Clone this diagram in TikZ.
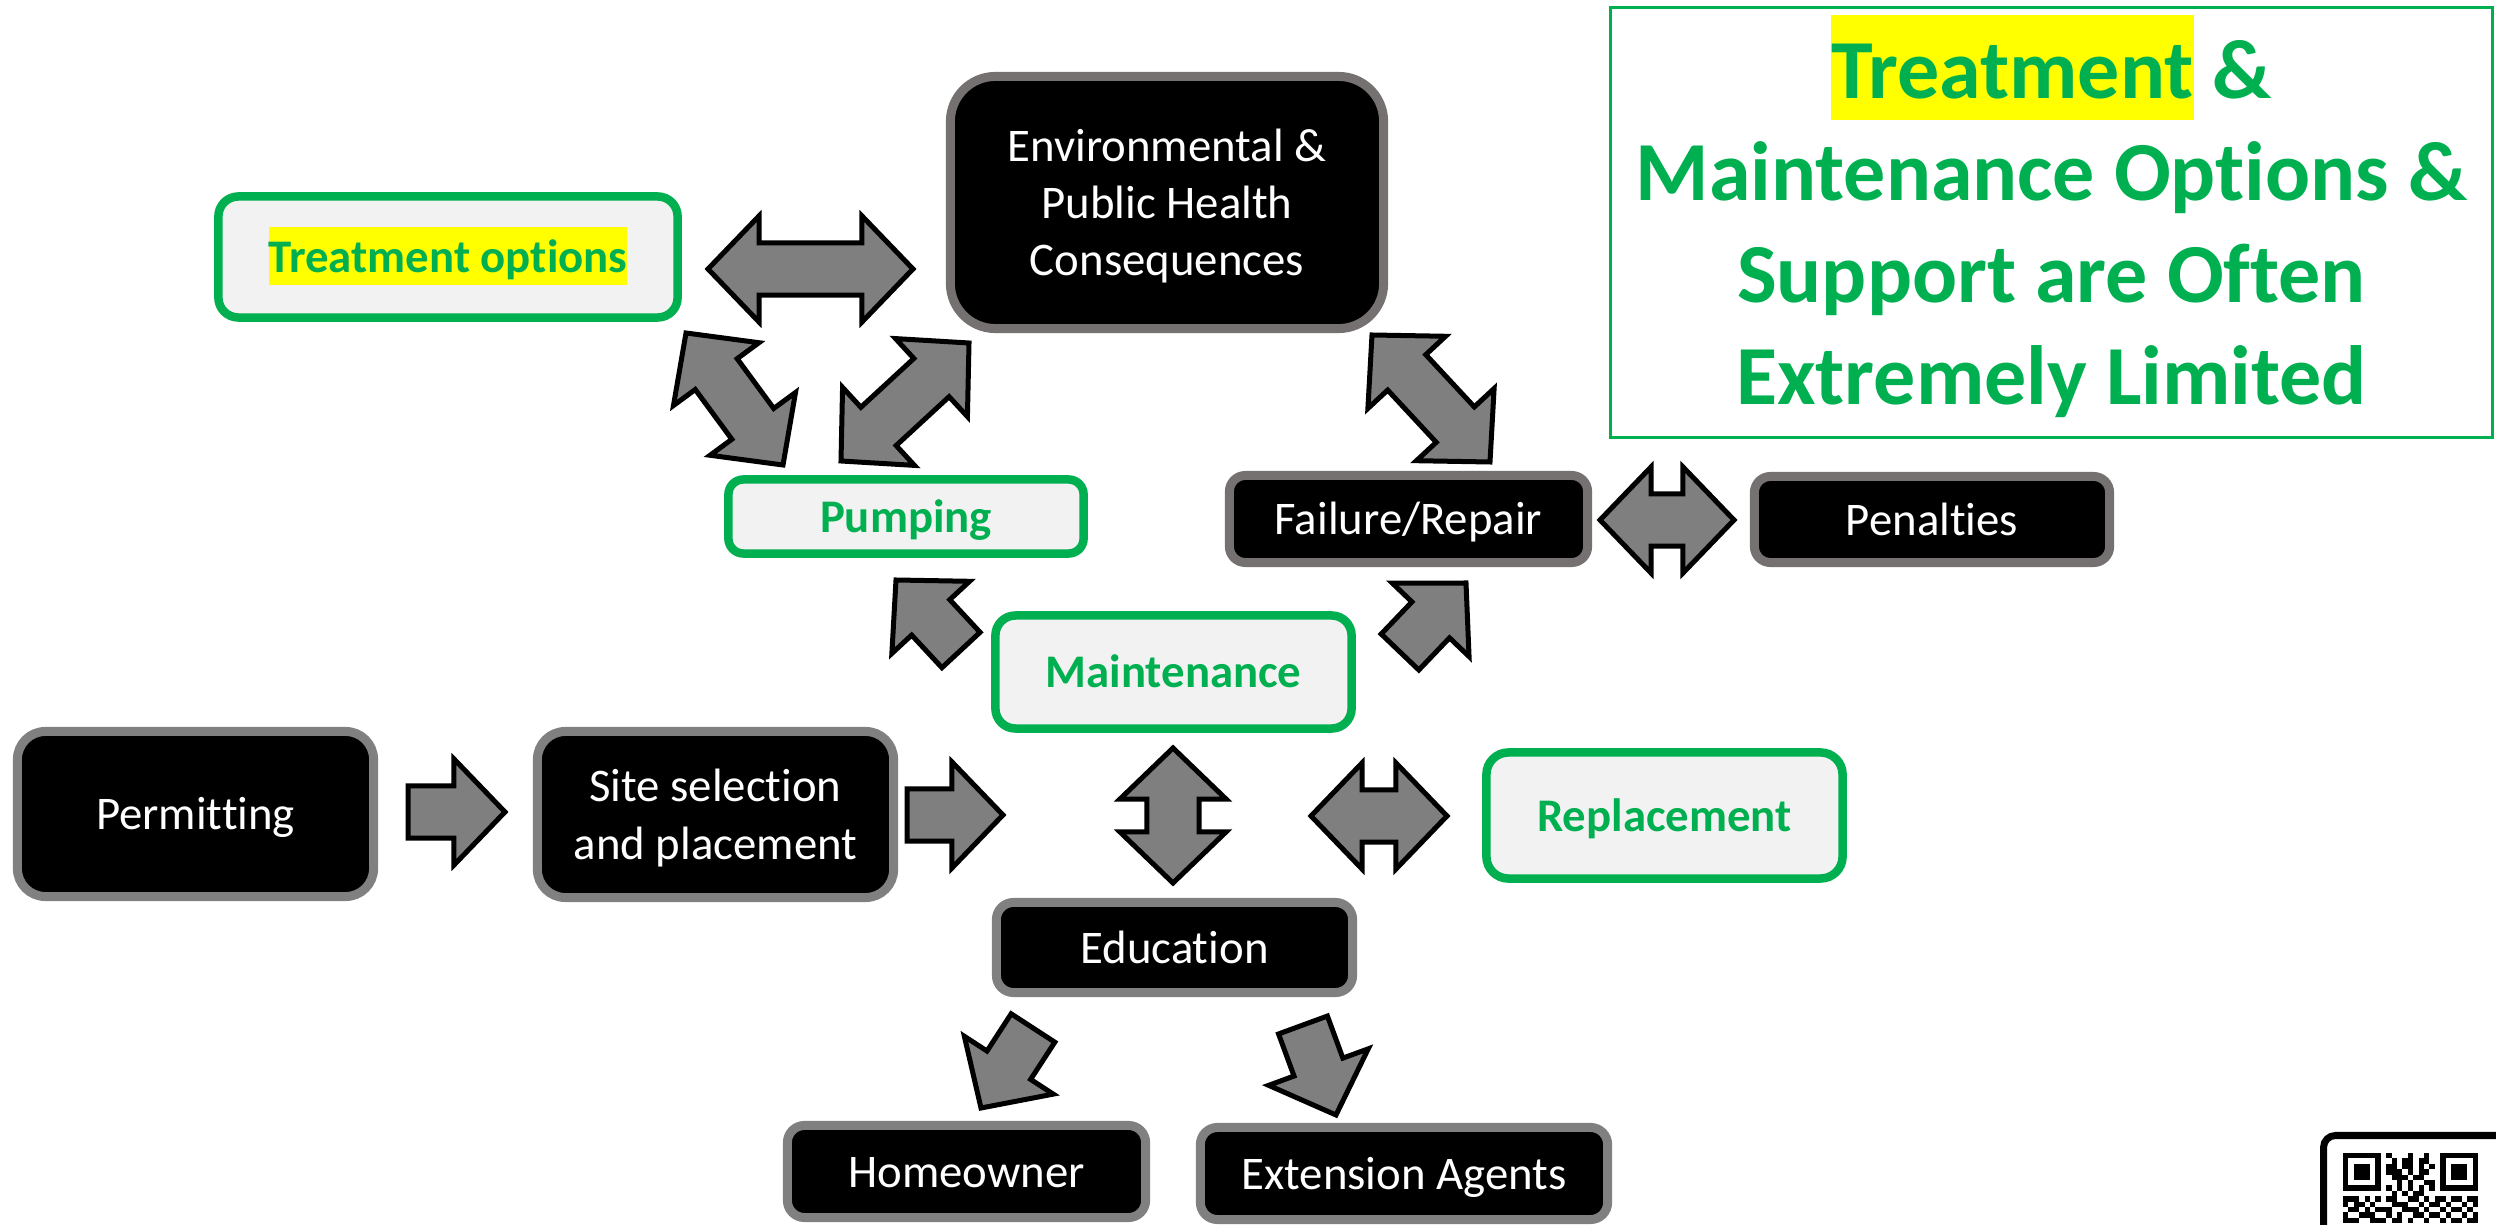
\documentclass[tikz,border=0pt]{standalone}
\usepackage{fontspec}
\setmainfont{Carlito}[Ligatures=NoCommon]
\usetikzlibrary{calc}

\definecolor{boxgreen}{HTML}{00B050}
\definecolor{boxfill}{HTML}{F2F2F2}
\definecolor{hlyellow}{HTML}{FFFF00}
\definecolor{rimgray}{HTML}{767171}
\definecolor{edgegray}{HTML}{808080}
\definecolor{arrowgray}{HTML}{7F7F7F}

\newcommand{\boxfont}{\fontsize{13.3pt}{16.3pt}\selectfont}
\newcommand{\titlefont}{\fontsize{23.9pt}{29pt}\selectfont\bfseries}
\newcommand{\hilite}[1]{{\setlength{\fboxsep}{0pt}\colorbox{hlyellow}{\rule[-0.26em]{0pt}{1.25em}#1}}}

% block arrow sizes (half widths)
\newcommand{\headlen}{0.51cm}
\newcommand{\headwid}{0.53cm}
\newcommand{\shaftwid}{0.26cm}

% double headed block arrow between two points
\newcommand{\dblarrow}[2]{%
  \draw[blockarrow] (#1)
    -- ($(#1)!\headlen!(#2)!\headwid!90:(#2)$)
    -- ($(#1)!\headlen!(#2)!\shaftwid!90:(#2)$)
    -- ($(#2)!\headlen!(#1)!\shaftwid!-90:(#1)$)
    -- ($(#2)!\headlen!(#1)!\headwid!-90:(#1)$)
    -- (#2)
    -- ($(#2)!\headlen!(#1)!\headwid!90:(#1)$)
    -- ($(#2)!\headlen!(#1)!\shaftwid!90:(#1)$)
    -- ($(#1)!\headlen!(#2)!\shaftwid!-90:(#2)$)
    -- ($(#1)!\headlen!(#2)!\headwid!-90:(#2)$)
    -- cycle;}

% single headed block arrow from tail to tip
\newcommand{\sglarrow}[2]{%
  \draw[blockarrow] ($(#1)!\shaftwid!90:(#2)$)
    -- ($(#2)!\headlen!(#1)!\shaftwid!-90:(#1)$)
    -- ($(#2)!\headlen!(#1)!\headwid!-90:(#1)$)
    -- (#2)
    -- ($(#2)!\headlen!(#1)!\headwid!90:(#1)$)
    -- ($(#2)!\headlen!(#1)!\shaftwid!90:(#1)$)
    -- ($(#1)!\shaftwid!-90:(#2)$)
    -- cycle;}

\tikzset{
  darkbox/.style={draw=edgegray, fill=black, text=white, line width=0.09cm,
    rounded corners=0.17cm, align=center, inner sep=0pt, font=\boxfont,
    text height=12.66pt, text depth=3.58pt},
  greenbox/.style={draw=boxgreen, fill=boxfill, text=boxgreen, line width=0.085cm,
    rounded corners=0.2cm, align=center, inner sep=0pt, font=\boxfont\bfseries,
    text height=12.66pt, text depth=3.58pt},
  blockarrow/.style={draw=black, fill=arrowgray, line width=0.05cm, line join=miter},
}

\begin{document}
\begin{tikzpicture}[x=0.01cm, y=-0.01cm]
    \useasboundingbox (0,0) rectangle (2496,1225);
    \clip (0,0) rectangle (2496,1225);

    % Define the boxes
    \node[greenbox, minimum width=4.59cm, minimum height=1.21cm] (Treat) at (448,257) {\hilite{Treatment options}};
    \node[darkbox, draw=rimgray, rounded corners=0.45cm, minimum width=4.33cm, minimum height=2.52cm,
      text height=45.26pt] (Env) at (1167,202.5) {Environmental \&\\Public Health\\Consequences};
    \node[greenbox, rounded corners=0.15cm, minimum width=3.55cm, minimum height=0.74cm] (Pump) at (906,516.5) {Pumping};
    \node[darkbox, draw=rimgray, rounded corners=0.16cm, minimum width=3.58cm, minimum height=0.87cm] (Fail) at (1408.5,519) {Failure/Repair};
    \node[darkbox, draw=rimgray, rounded corners=0.16cm, minimum width=3.55cm, minimum height=0.86cm] (Pen) at (1932,519.5) {Penalties};
    \node[greenbox, minimum width=3.56cm, minimum height=1.13cm] (Maint) at (1173.5,672) {Maintenance};
    \node[greenbox, rounded corners=0.22cm, minimum width=3.56cm, minimum height=1.26cm] (Repl) at (1664.5,815.5) {Replacement};
    \node[darkbox, rounded corners=0.28cm, minimum width=3.56cm, minimum height=1.65cm] (Permit) at (195.5,814) {Permitting};
    \node[darkbox, rounded corners=0.28cm, minimum width=3.56cm, minimum height=1.66cm,
      text height=28.96pt] (Site) at (715.5,814.5) {Site selection\\and placement};
    \node[darkbox, minimum width=3.56cm, minimum height=0.90cm] (Edu) at (1174.5,947.5) {Education};
    \node[darkbox, minimum width=3.58cm, minimum height=0.92cm] (Home) at (966.5,1171.5) {Homeowner};
    \node[darkbox, minimum width=4.07cm, minimum height=0.92cm] (Ext) at (1404,1173.5) {Extension Agents};

    \node[draw=boxgreen, line width=0.03cm, minimum width=8.82cm, minimum height=4.30cm, align=center,
      text=boxgreen, font=\titlefont, inner sep=0pt, text height=109.75pt, text depth=6.43pt] (Title) at (2051.5,222.5)
      {\hilite{Treatment} \&\\Maintenance Options \&\\Support are Often\\Extremely Limited};

    % Define the arrow ends
    \coordinate (TE1) at (708,269);   \coordinate (TE2) at (913,269);
    \coordinate (TP1) at (686,333);   \coordinate (TP2) at (783,465);
    \coordinate (PE1) at (841,461);   \coordinate (PE2) at (969,343);
    \coordinate (EF1) at (1372,335);  \coordinate (EF2) at (1490,462);
    \coordinate (FP1) at (1600,520);  \coordinate (FP2) at (1734,520);
    \coordinate (ME1) at (1173,748);  \coordinate (ME2) at (1173,883);
    \coordinate (MR1) at (1311,816);  \coordinate (MR2) at (1447,816);

    \coordinate (PS1) at (408,812);   \coordinate (PS2) at (505,812);
    \coordinate (SM1) at (907,815);   \coordinate (SM2) at (1003,815);
    \coordinate (MP1) at (961,650);   \coordinate (MP2) at (896,580);
    \coordinate (MF1) at (1400,652);  \coordinate (MF2) at (1466,583);
    \coordinate (EH1) at (1033,1028); \coordinate (EH2) at (981,1108);
    \coordinate (EX1) at (1303,1025); \coordinate (EX2) at (1336,1115);

    % Draw the arrows
    \foreach \a/\b in {TE1/TE2, TP1/TP2, PE1/PE2, EF1/EF2, FP1/FP2, ME1/ME2, MR1/MR2}
      {\dblarrow{\a}{\b}}
    \foreach \a/\b in {PS1/PS2, SM1/SM2, MP1/MP2, MF1/MF2, EH1/EH2, EX1/EX2}
      {\sglarrow{\a}{\b}}

    % QR code in the corner
    \draw[line width=0.07cm, rounded corners=0.12cm] (2323.5,1135.5) rectangle (2600,1400);
    \foreach \fx in {2343,2440.2} {
      \fill (\fx,1153) rectangle ++(37.8,37.8);
      \fill[white] (\fx+5.4,1158.4) rectangle ++(27,27);
      \fill (\fx+10.8,1163.8) rectangle ++(16.2,16.2);
    }
    \foreach \r/\cols in {0/{8,12,15}, 1/{9,11,12,14,15}, 2/{8,9,11,12,14,16},
        3/{8,9,10,12,14,15}, 4/{9,10,11,13,14}, 5/{10,12,15,16},
        6/{8,10,12,14,16}, 7/{9,11,13,14},
        8/{0,1,2,4,6,8,9,12,13,15,17,18,20,21,23,24},
        9/{0,2,3,5,9,10,11,14,16,17,19,22,24},
        10/{1,2,4,6,7,8,11,12,13,15,18,20,21,23},
        11/{0,3,4,5,8,10,13,14,16,17,19,22,24},
        12/{0,1,2,5,6,7,9,10,12,15,18,20,21,23,24}}
      \foreach \c in \cols
        \fill ({2343+\c*5.4},{1153+\r*5.4}) rectangle ++(5.4,5.4);

\end{tikzpicture}
\end{document}
